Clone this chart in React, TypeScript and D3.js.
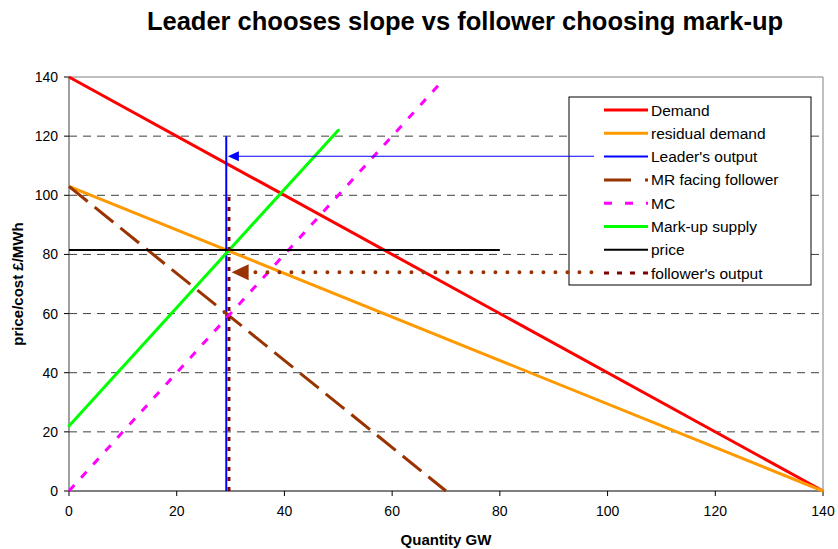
import React from "react";
import * as d3 from "d3";

const title = "Leader chooses slope vs follower choosing mark-up";
const xTicks = [0, 20, 40, 60, 80, 100, 120, 140];
const yTicks = [0, 20, 40, 60, 80, 100, 120, 140];

const demandX = [0, 140];
const demandY = [140, 0];
const residualX = [0, 140];
const residualY = [103, 0];
const leaderX = [29.2, 29.2];
const leaderY = [0, 120];
const mrX = [0, 70];
const mrY = [103, 0];
const mcX = [0, 69];
const mcY = [0, 138];
const markupX = [0, 50];
const markupY = [22, 122];
const priceX = [0, 80];
const priceY = [81.5, 81.5];
const followerX = [29.7, 29.7];
const followerY = [0, 100];
const leaderArrowX = [97.5, 29.5];
const leaderArrowY = [113.2, 113.2];
const followerArrowX = [97, 30.2];
const followerArrowY = [74, 74];

const legendLabels = [
  "Demand",
  "residual demand",
  "Leader's output",
  "MR facing follower",
  "MC",
  "Mark-up supply",
  "price",
  "follower's output",
];

const FONT = "'Liberation Sans', Arial, sans-serif";

export default function App() {
  const W = 838, H = 549;
  const x = d3.scaleLinear().domain([0, 140]).range([69, 823]);
  const y = d3.scaleLinear().domain([0, 140]).range([491, 77]);
  const line = (xs: number[], ys: number[]) =>
    d3.line<number>().x((_, i) => x(xs[i])).y((_, i) => y(ys[i]))(xs) || "";

  const series = [
    { xs: demandX, ys: demandY, stroke: "#FF0000", w: 3, dash: undefined as string | undefined, cap: "butt" },
    { xs: residualX, ys: residualY, stroke: "#FF9900", w: 3, dash: undefined, cap: "butt" },
    { xs: leaderX, ys: leaderY, stroke: "#0000FF", w: 2, dash: undefined, cap: "butt" },
    { xs: mrX, ys: mrY, stroke: "#993300", w: 3, dash: "24,9", cap: "butt" },
    { xs: mcX, ys: mcY, stroke: "#FF00FF", w: 3, dash: "8,10", cap: "butt" },
    { xs: markupX, ys: markupY, stroke: "#00FF00", w: 3, dash: undefined, cap: "round" },
    { xs: priceX, ys: priceY, stroke: "#000000", w: 2, dash: undefined, cap: "butt" },
    { xs: followerX, ys: followerY, stroke: "#800000", w: 3, dash: "4,6", cap: "butt" },
  ];

  const legendSamples = [
    { stroke: "#FF0000", w: 3, dash: undefined as string | undefined },
    { stroke: "#FF9900", w: 3, dash: undefined },
    { stroke: "#0000FF", w: 2, dash: undefined },
    { stroke: "#993300", w: 3, dash: "27,14" },
    { stroke: "#FF00FF", w: 3, dash: "8,13" },
    { stroke: "#00FF00", w: 3, dash: undefined },
    { stroke: "#000000", w: 2, dash: undefined },
    { stroke: "#800000", w: 3, dash: "5,8" },
  ];

  const lx0 = 569, ly0 = 97, lx1 = 811, ly1 = 285;
  const rowY = (i: number) => 110 + i * 23.3;

  const bTip = [x(leaderArrowX[1]), y(leaderArrowY[1])];
  const fTip = [x(followerArrowX[1]), y(followerArrowY[1])];

  return (
    <svg width={W} height={H} style={{ display: "block", position: "absolute", left: 0, top: 0 }}>
      <rect x={0} y={0} width={W} height={H} fill="#fff" />
      <text x={465} y={30} textAnchor="middle" fontFamily={FONT} fontWeight="bold" fontSize={25.5}>
        {title}
      </text>
      {yTicks.filter((t) => t > 0 && t < 140).map((t) => (
        <line key={t} x1={x(0)} x2={x(140)} y1={y(t)} y2={y(t)} stroke="#404040" strokeWidth={1} strokeDasharray="8,6" />
      ))}
      <line x1={x(0)} x2={x(140)} y1={y(140)} y2={y(140)} stroke="#808080" strokeWidth={1} />
      <line x1={x(140)} x2={x(140)} y1={y(140)} y2={y(0)} stroke="#808080" strokeWidth={1} />
      <line x1={x(0)} x2={x(0)} y1={y(140)} y2={y(0)} stroke="#404040" strokeWidth={1} />
      <line x1={x(0)} x2={x(140)} y1={y(0)} y2={y(0)} stroke="#000" strokeWidth={1} />
      {yTicks.map((t) => (
        <g key={t}>
          <line x1={x(0) - 5} x2={x(0)} y1={y(t)} y2={y(t)} stroke="#000" />
          <text x={x(0) - 11} y={y(t) + 5} textAnchor="end" fontFamily={FONT} fontSize={14}>{t}</text>
        </g>
      ))}
      {xTicks.map((t) => (
        <g key={t}>
          <line x1={x(t)} x2={x(t)} y1={y(0)} y2={y(0) + 5} stroke="#000" />
          <text x={x(t)} y={y(0) + 25} textAnchor="middle" fontFamily={FONT} fontSize={14}>{t}</text>
        </g>
      ))}
      <text x={446} y={545} textAnchor="middle" fontFamily={FONT} fontWeight="bold" fontSize={15}>Quantity GW</text>
      <text transform="translate(23,284) rotate(-90)" textAnchor="middle" fontFamily={FONT} fontWeight="bold" fontSize={15}>
        price/cost £/MWh
      </text>
      {series.map((s, i) => (
        <path key={i} d={line(s.xs, s.ys)} fill="none" stroke={s.stroke} strokeWidth={s.w}
          strokeDasharray={s.dash} strokeLinecap={s.cap as any} />
      ))}
      <rect x={lx0} y={ly0} width={lx1 - lx0} height={ly1 - ly0} fill="#fff" stroke="#000" strokeWidth={1} />
      {legendLabels.map((lab, i) => (
        <g key={lab}>
          <line x1={604} x2={648} y1={rowY(i)} y2={rowY(i)} stroke={legendSamples[i].stroke}
            strokeWidth={legendSamples[i].w} strokeDasharray={legendSamples[i].dash} />
          <text x={651} y={rowY(i) + 5.5} fontFamily={FONT} fontSize={15.5}>{lab}</text>
        </g>
      ))}
      <line x1={x(leaderArrowX[0])} x2={bTip[0] + 10} y1={y(leaderArrowY[0])} y2={y(leaderArrowY[1])} stroke="#0000FF" strokeWidth={1} />
      <path d={`M${bTip[0]},${bTip[1]} L${bTip[0] + 11},${bTip[1] - 5} L${bTip[0] + 11},${bTip[1] + 5} Z`} fill="#0000FF" />
      <line x1={x(followerArrowX[0])} x2={fTip[0] + 18} y1={y(followerArrowY[0])} y2={y(followerArrowY[1])} stroke="#993300" strokeWidth={4} strokeDasharray="0,12" strokeLinecap="round" />
      <path d={`M${fTip[0]},${fTip[1]} L${fTip[0] + 17},${fTip[1] - 8} L${fTip[0] + 17},${fTip[1] + 8} Z`} fill="#993300" />
    </svg>
  );
}
